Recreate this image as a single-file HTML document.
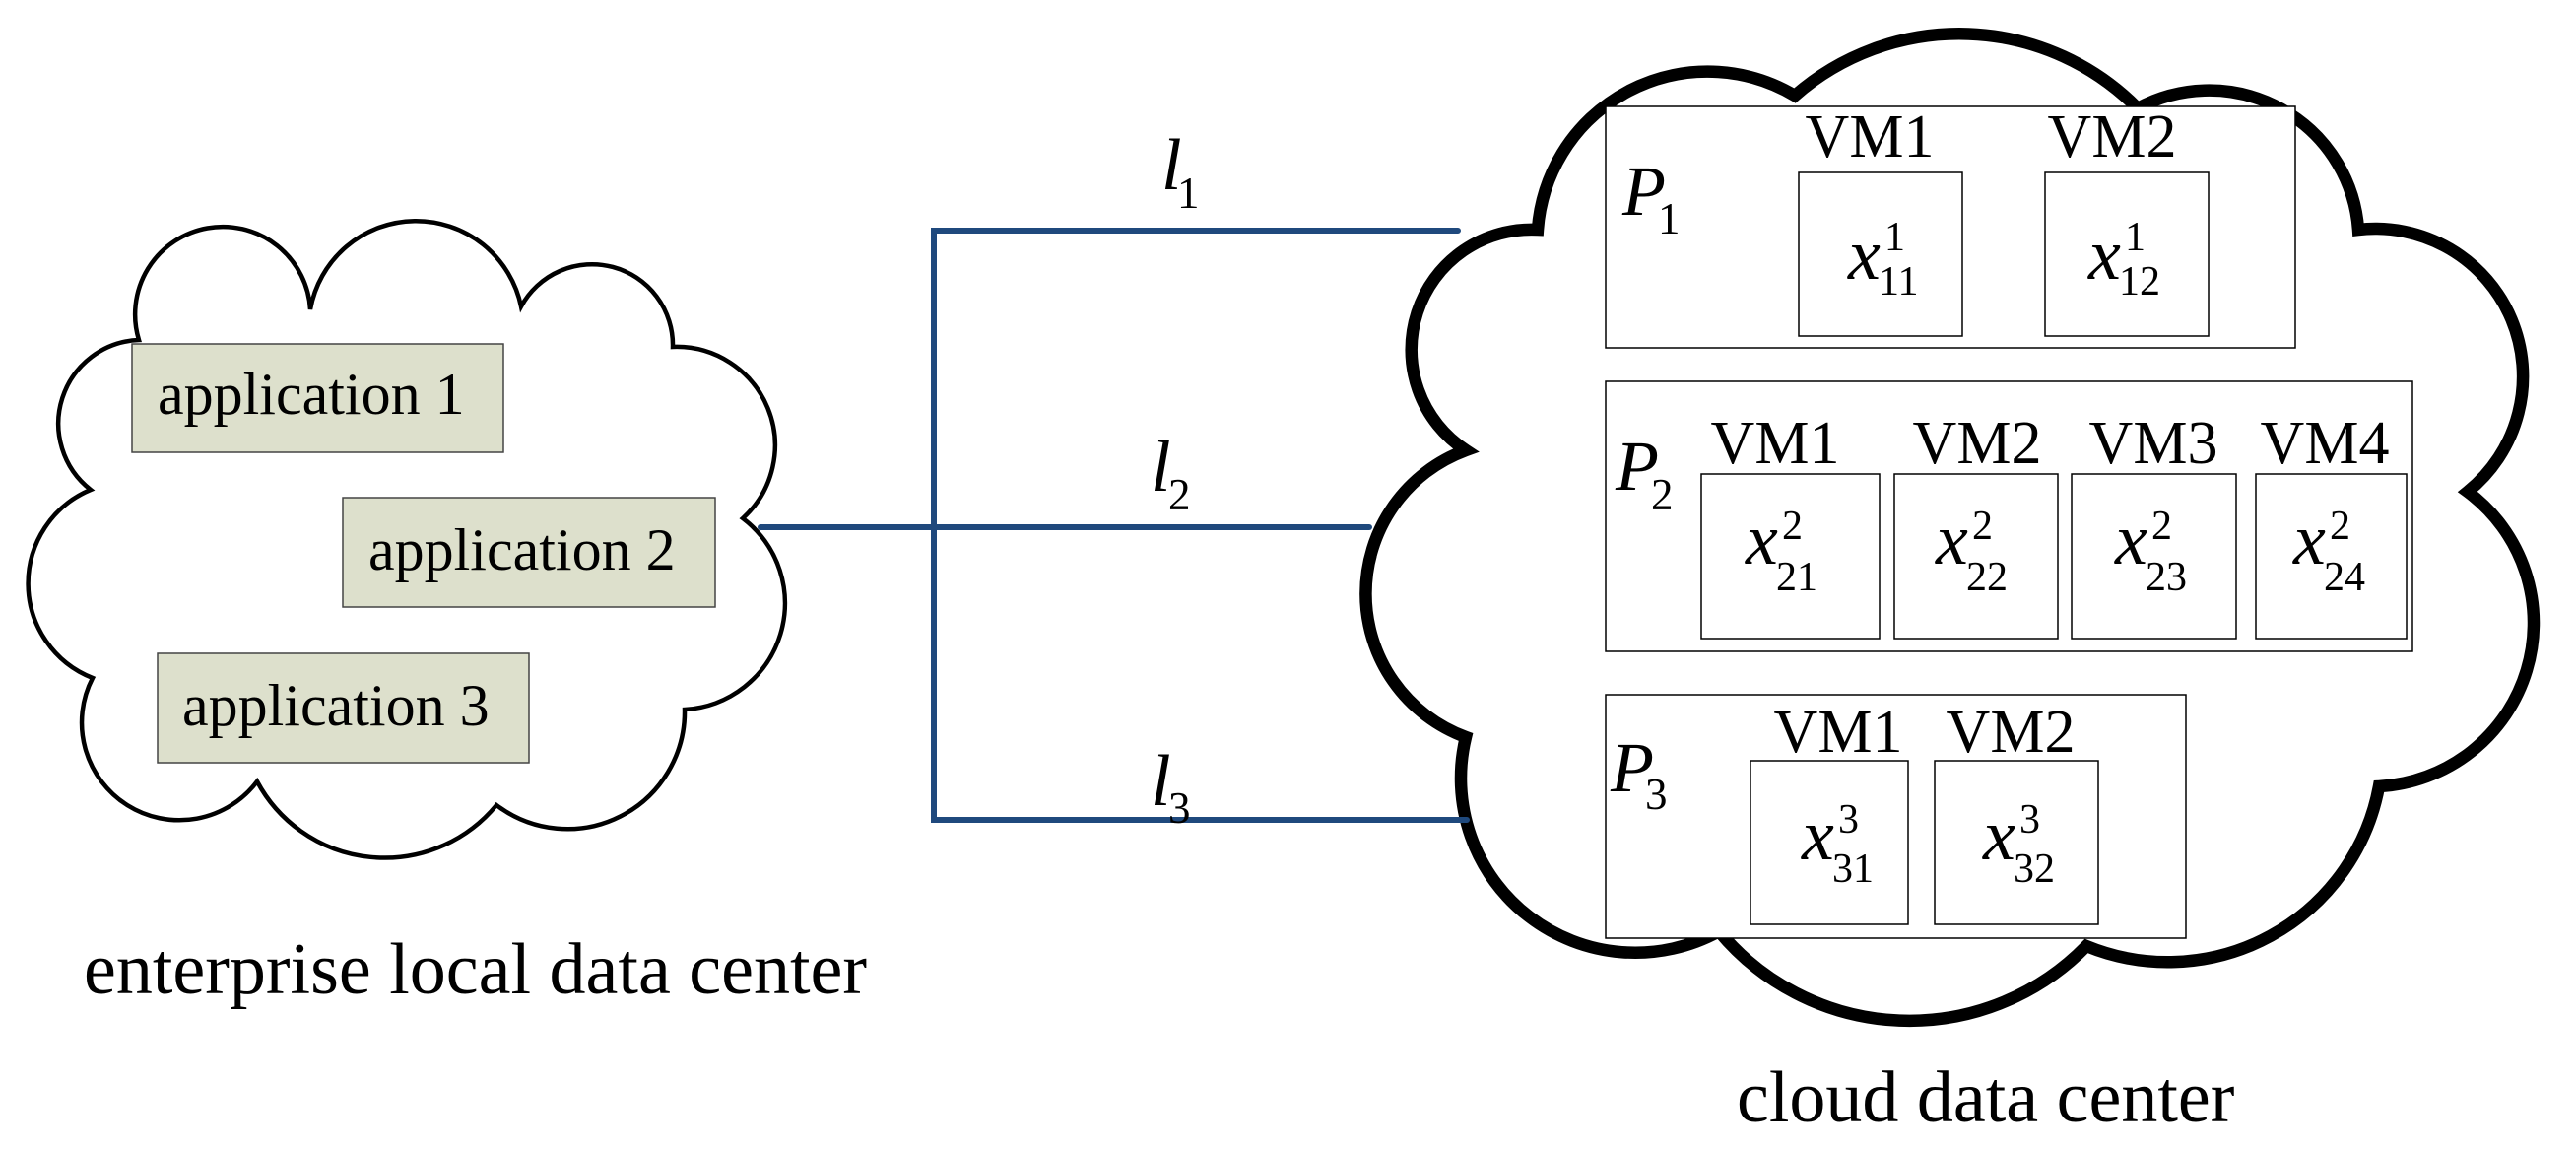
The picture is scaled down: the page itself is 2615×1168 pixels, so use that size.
<!DOCTYPE html>
<html><head><meta charset="utf-8"><style>
html,body{margin:0;padding:0;background:#fff;}
svg{display:block;}
text{font-family:"Liberation Serif",serif;fill:#000;}
.it{font-style:italic;}
</style></head><body>
<svg width="2615" height="1168" viewBox="0 0 2615 1168" xmlns="http://www.w3.org/2000/svg">
<path d="M94,688 A103,103 0 0 1 92,497 A85,85 0 0 1 141,345 A89,89 0 1 1 315,314 A109,109 0 0 1 529,311 A82,82 0 0 1 683,352 A100,100 0 0 1 754,526 A108,108 0 0 1 695,720 A119,119 0 0 1 504,817 A147,147 0 0 1 261,793 A99,99 0 0 1 94,688 Z" fill="#fff" stroke="#000" stroke-width="4.5" stroke-linejoin="miter"/>
<rect x="134" y="349" width="377" height="110" fill="#dde0cc" stroke="#444" stroke-width="1.5"/>
<rect x="348" y="505" width="378" height="111" fill="#dde0cc" stroke="#444" stroke-width="1.5"/>
<rect x="160" y="663" width="377" height="111" fill="#dde0cc" stroke="#444" stroke-width="1.5"/>
<text x="160" y="420" font-size="60">application 1</text>
<text x="374" y="578" font-size="60">application 2</text>
<text x="185" y="736" font-size="60">application 3</text>
<text x="85" y="1008" font-size="74">enterprise local data center</text>

<path d="M1488,457 A122,122 0 0 1 1561,233 A173,173 0 0 1 1822,97 A254,254 0 0 1 2170,110 A152,152 0 0 1 2394,233 A150,150 0 0 1 2505,499 A166,166 0 0 1 2415,798 A218,218 0 0 1 2118,960 A251,251 0 0 1 1745,945 A177,177 0 0 1 1488,748 A155,155 0 0 1 1488,457 Z" fill="#fff" stroke="#000" stroke-width="12.5" stroke-linejoin="miter"/>

<g stroke="#1f497d" stroke-width="6" fill="none" stroke-linecap="round">
<line x1="772" y1="535" x2="1390" y2="535"/>
<polyline points="1480,234 948,234 948,832 1489,832"/>
</g>
<text class="it" x="1179" y="192" font-size="74">l</text><text x="1195" y="211" font-size="45">1</text>
<text class="it" x="1168" y="498" font-size="74">l</text><text x="1186" y="517" font-size="45">2</text>
<text class="it" x="1168" y="817" font-size="74">l</text><text x="1186" y="835" font-size="45">3</text>

<rect x="1630" y="108" width="700" height="245" fill="#fff" stroke="#000" stroke-width="1.5"/>
<text class="it" x="1647" y="218" font-size="72">P</text><text x="1683" y="237" font-size="45">1</text>
<rect x="1826" y="175" width="166" height="166" fill="#fff" stroke="#000" stroke-width="1.5"/>
<rect x="2076" y="175" width="166" height="166" fill="#fff" stroke="#000" stroke-width="1.5"/>
<text x="1898" y="159" font-size="62" text-anchor="middle">VM1</text>
<text x="2144" y="159" font-size="62" text-anchor="middle">VM2</text>
<text class="it" x="1876" y="283" font-size="74">x</text><text x="1913" y="254" font-size="42">1</text><text x="1907" y="299" font-size="42">11</text>
<text class="it" x="2120" y="283" font-size="74">x</text><text x="2157" y="254" font-size="42">1</text><text x="2151" y="299" font-size="42">12</text>

<rect x="1630" y="387" width="819" height="274" fill="#fff" stroke="#000" stroke-width="1.5"/>
<text class="it" x="1640" y="497" font-size="72">P</text><text x="1676" y="517" font-size="45">2</text>
<rect x="1727" y="481" width="181" height="167" fill="#fff" stroke="#000" stroke-width="1.5"/>
<rect x="1923" y="481" width="166" height="167" fill="#fff" stroke="#000" stroke-width="1.5"/>
<rect x="2103" y="481" width="167" height="167" fill="#fff" stroke="#000" stroke-width="1.5"/>
<rect x="2290" y="481" width="153" height="167" fill="#fff" stroke="#000" stroke-width="1.5"/>
<text x="1802" y="470" font-size="62" text-anchor="middle">VM1</text>
<text x="2007" y="470" font-size="62" text-anchor="middle">VM2</text>
<text x="2186" y="470" font-size="62" text-anchor="middle">VM3</text>
<text x="2360" y="470" font-size="62" text-anchor="middle">VM4</text>
<text class="it" x="1772" y="572" font-size="74">x</text><text x="1809" y="547" font-size="42">2</text><text x="1803" y="599" font-size="42">21</text>
<text class="it" x="1965" y="572" font-size="74">x</text><text x="2002" y="547" font-size="42">2</text><text x="1996" y="599" font-size="42">22</text>
<text class="it" x="2147" y="572" font-size="74">x</text><text x="2184" y="547" font-size="42">2</text><text x="2178" y="599" font-size="42">23</text>
<text class="it" x="2328" y="572" font-size="74">x</text><text x="2365" y="547" font-size="42">2</text><text x="2359" y="599" font-size="42">24</text>

<rect x="1630" y="705" width="589" height="247" fill="#fff" stroke="#000" stroke-width="1.5"/>
<text class="it" x="1635" y="803" font-size="72">P</text><text x="1670" y="821" font-size="45">3</text>
<rect x="1777" y="772" width="160" height="166" fill="#fff" stroke="#000" stroke-width="1.5"/>
<rect x="1964" y="772" width="166" height="166" fill="#fff" stroke="#000" stroke-width="1.5"/>
<text x="1866" y="763" font-size="62" text-anchor="middle">VM1</text>
<text x="2041" y="763" font-size="62" text-anchor="middle">VM2</text>
<text class="it" x="1829" y="872" font-size="74">x</text><text x="1866" y="845" font-size="42">3</text><text x="1860" y="895" font-size="42">31</text>
<text class="it" x="2013" y="872" font-size="74">x</text><text x="2050" y="845" font-size="42">3</text><text x="2044" y="895" font-size="42">32</text>

<text x="1763" y="1138" font-size="74">cloud data center</text>
</svg>
</body></html>
